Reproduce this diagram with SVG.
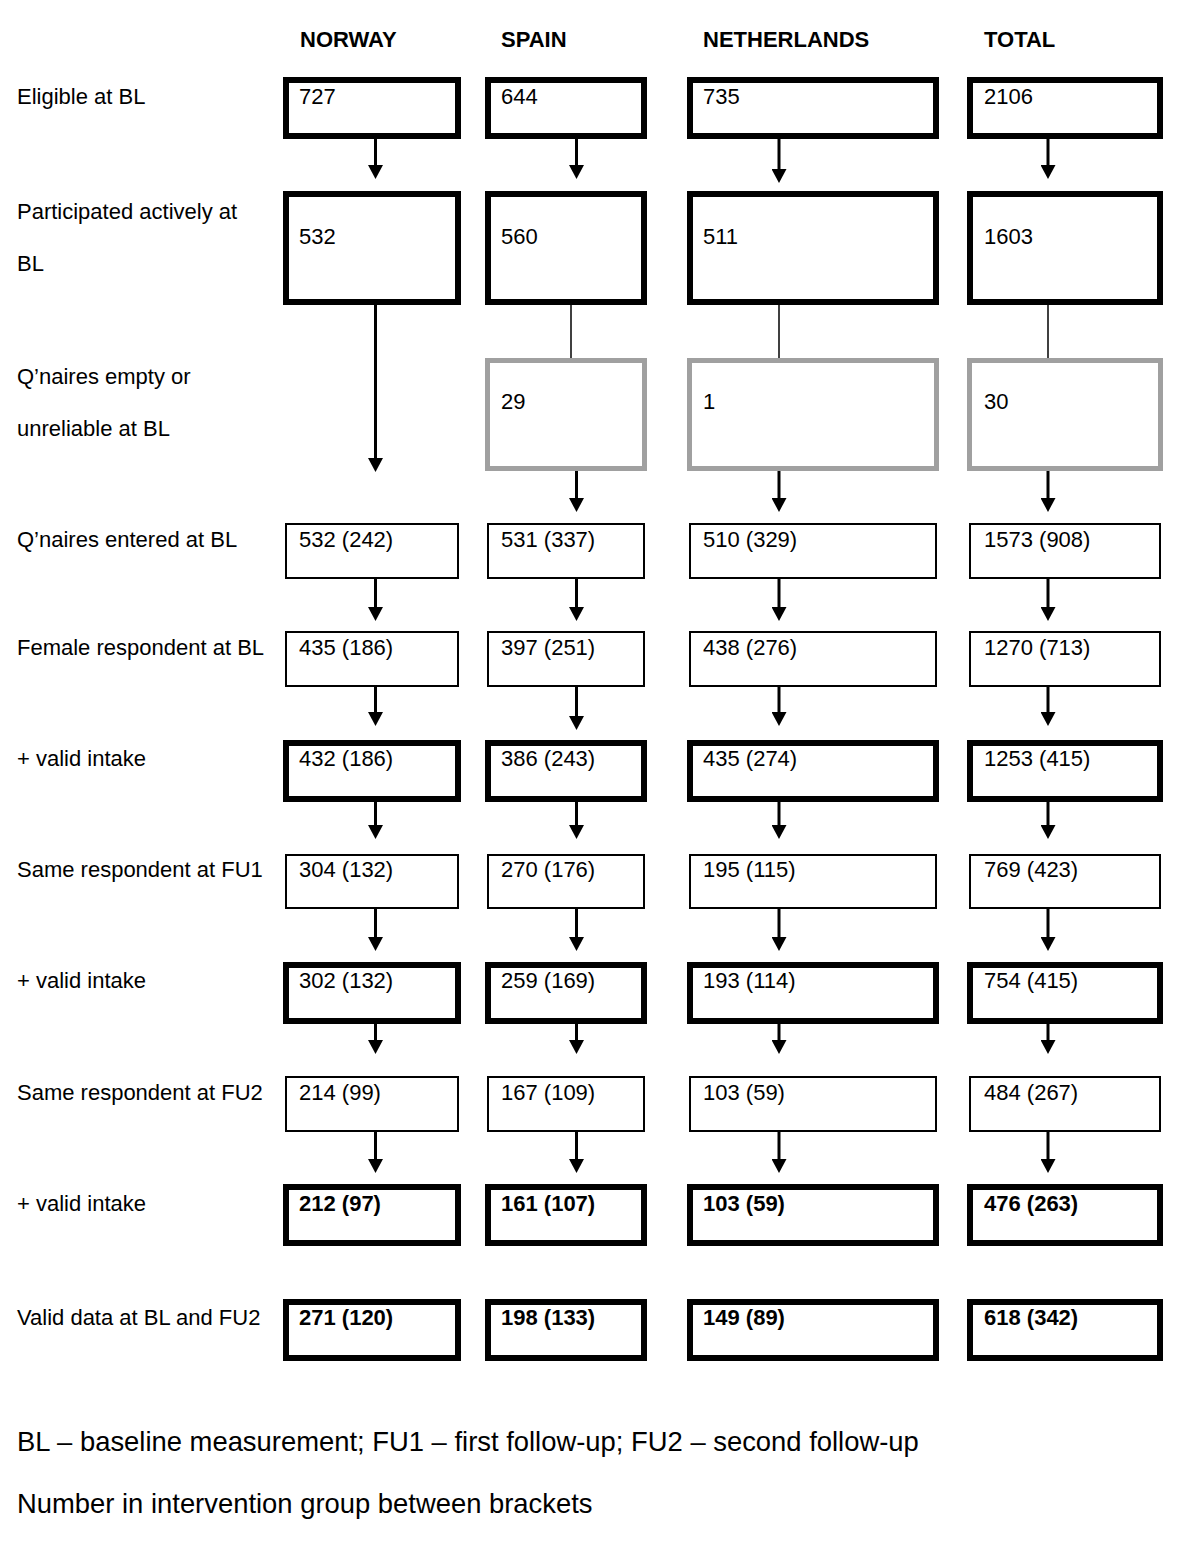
<svg xmlns="http://www.w3.org/2000/svg" width="1200" height="1549" viewBox="0 0 1200 1549">
<style>
text{font-family:"Liberation Sans",Arial,sans-serif;font-size:22px;fill:#000}
.hd{font-weight:bold}
.b{font-weight:bold}
.ft{font-size:27.4px}
.thick{fill:#fff;stroke:#000;stroke-width:6}
.thin{fill:#fff;stroke:#000;stroke-width:2}
.grey{fill:#fff;stroke:#a0a0a0;stroke-width:5}
.arr{stroke:#000;stroke-width:3;fill:none;marker-end:url(#ah)}
.ln{stroke:#000;stroke-width:1.5;fill:none}
</style>
<defs>
<marker id="ah" markerUnits="userSpaceOnUse" markerWidth="15" markerHeight="15" viewBox="0 0 14 15" refX="1" refY="7.5" orient="auto">
<path d="M0,0 L14,7.5 L0,15 z" fill="#000"/>
</marker>
</defs>
<rect width="1200" height="1549" fill="#fff"/>

<g id="headers">
<text class="hd" x="300" y="47">NORWAY</text>
<text class="hd" x="501" y="47">SPAIN</text>
<text class="hd" x="703" y="47">NETHERLANDS</text>
<text class="hd" x="984" y="47">TOTAL</text>
</g>

<g id="row-labels">
<text x="17" y="104">Eligible at BL</text>
<text x="17" y="219">Participated actively at</text>
<text x="17" y="271">BL</text>
<text x="17" y="384">Q’naires empty or</text>
<text x="17" y="436">unreliable at BL</text>
<text x="17" y="547">Q’naires entered at BL</text>
<text x="17" y="655">Female respondent at BL</text>
<text x="17" y="766">+ valid intake</text>
<text x="17" y="877">Same respondent at FU1</text>
<text x="17" y="988">+ valid intake</text>
<text x="17" y="1100">Same respondent at FU2</text>
<text x="17" y="1211">+ valid intake</text>
<text x="17" y="1325">Valid data at BL and FU2</text>
</g>

<g id="connectors">
<!-- row 1 to 2 -->
<line class="arr" x1="375.5" y1="137" x2="375.5" y2="166"/>
<line class="arr" x1="576.5" y1="137" x2="576.5" y2="166"/>
<line class="arr" x1="779" y1="137" x2="779" y2="170"/>
<line class="arr" x1="1048" y1="137" x2="1048" y2="166"/>
<!-- row 2 to 3 -->
<line class="arr" x1="375.5" y1="303" x2="375.5" y2="459"/>
<line class="ln" x1="571" y1="303" x2="571" y2="358"/>
<line class="ln" x1="779" y1="303" x2="779" y2="358"/>
<line class="ln" x1="1048" y1="303" x2="1048" y2="358"/>
<!-- row 3 to 4 -->
<line class="arr" x1="576.5" y1="471" x2="576.5" y2="499"/>
<line class="arr" x1="779" y1="471" x2="779" y2="499"/>
<line class="arr" x1="1048" y1="471" x2="1048" y2="499"/>
<!-- row 4 to 5 -->
<line class="arr" x1="375.5" y1="578" x2="375.5" y2="608"/>
<line class="arr" x1="576.5" y1="578" x2="576.5" y2="608"/>
<line class="arr" x1="779" y1="578" x2="779" y2="608"/>
<line class="arr" x1="1048" y1="578" x2="1048" y2="608"/>
<!-- row 5 to 6 -->
<line class="arr" x1="375.5" y1="686" x2="375.5" y2="713"/>
<line class="arr" x1="576.5" y1="686" x2="576.5" y2="717"/>
<line class="arr" x1="779" y1="686" x2="779" y2="713"/>
<line class="arr" x1="1048" y1="686" x2="1048" y2="713"/>
<!-- row 6 to 7 -->
<line class="arr" x1="375.5" y1="800" x2="375.5" y2="826"/>
<line class="arr" x1="576.5" y1="800" x2="576.5" y2="826"/>
<line class="arr" x1="779" y1="800" x2="779" y2="826"/>
<line class="arr" x1="1048" y1="800" x2="1048" y2="826"/>
<!-- row 7 to 8 -->
<line class="arr" x1="375.5" y1="908" x2="375.5" y2="938"/>
<line class="arr" x1="576.5" y1="908" x2="576.5" y2="938"/>
<line class="arr" x1="779" y1="908" x2="779" y2="938"/>
<line class="arr" x1="1048" y1="908" x2="1048" y2="938"/>
<!-- row 8 to 9 -->
<line class="arr" x1="375.5" y1="1022" x2="375.5" y2="1041"/>
<line class="arr" x1="576.5" y1="1022" x2="576.5" y2="1041"/>
<line class="arr" x1="779" y1="1022" x2="779" y2="1041"/>
<line class="arr" x1="1048" y1="1022" x2="1048" y2="1041"/>
<!-- row 9 to 10 -->
<line class="arr" x1="375.5" y1="1131" x2="375.5" y2="1160"/>
<line class="arr" x1="576.5" y1="1131" x2="576.5" y2="1160"/>
<line class="arr" x1="779" y1="1131" x2="779" y2="1160"/>
<line class="arr" x1="1048" y1="1131" x2="1048" y2="1160"/>
</g>

<!-- Row 1: Eligible -->
<g id="no-eligible"><rect class="thick" x="286" y="80" width="172" height="56"/><text x="299" y="104">727</text></g>
<g id="es-eligible"><rect class="thick" x="488" y="80" width="156" height="56"/><text x="501" y="104">644</text></g>
<g id="nl-eligible"><rect class="thick" x="690" y="80" width="246" height="56"/><text x="703" y="104">735</text></g>
<g id="tot-eligible"><rect class="thick" x="970" y="80" width="190" height="56"/><text x="984" y="104">2106</text></g>

<!-- Row 2: Participated -->
<g id="no-participated"><rect class="thick" x="286" y="194" width="172" height="108"/><text x="299" y="244">532</text></g>
<g id="es-participated"><rect class="thick" x="488" y="194" width="156" height="108"/><text x="501" y="244">560</text></g>
<g id="nl-participated"><rect class="thick" x="690" y="194" width="246" height="108"/><text x="703" y="244">511</text></g>
<g id="tot-participated"><rect class="thick" x="970" y="194" width="190" height="108"/><text x="984" y="244">1603</text></g>

<!-- Row 3: Empty/unreliable -->
<g id="es-unreliable"><rect class="grey" x="487.5" y="360.5" width="157" height="108"/><text x="501" y="409">29</text></g>
<g id="nl-unreliable"><rect class="grey" x="689.5" y="360.5" width="247" height="108"/><text x="703" y="409">1</text></g>
<g id="tot-unreliable"><rect class="grey" x="969.5" y="360.5" width="191" height="108"/><text x="984" y="409">30</text></g>

<!-- Row 4: Entered -->
<g id="no-entered"><rect class="thin" x="286" y="524" width="172" height="54"/><text x="299" y="547">532 (242)</text></g>
<g id="es-entered"><rect class="thin" x="488" y="524" width="156" height="54"/><text x="501" y="547">531 (337)</text></g>
<g id="nl-entered"><rect class="thin" x="690" y="524" width="246" height="54"/><text x="703" y="547">510 (329)</text></g>
<g id="tot-entered"><rect class="thin" x="970" y="524" width="190" height="54"/><text x="984" y="547">1573 (908)</text></g>

<!-- Row 5: Female -->
<g id="no-female"><rect class="thin" x="286" y="632" width="172" height="54"/><text x="299" y="655">435 (186)</text></g>
<g id="es-female"><rect class="thin" x="488" y="632" width="156" height="54"/><text x="501" y="655">397 (251)</text></g>
<g id="nl-female"><rect class="thin" x="690" y="632" width="246" height="54"/><text x="703" y="655">438 (276)</text></g>
<g id="tot-female"><rect class="thin" x="970" y="632" width="190" height="54"/><text x="984" y="655">1270 (713)</text></g>

<!-- Row 6: valid intake BL -->
<g id="no-valid-bl"><rect class="thick" x="286" y="743" width="172" height="56"/><text x="299" y="766">432 (186)</text></g>
<g id="es-valid-bl"><rect class="thick" x="488" y="743" width="156" height="56"/><text x="501" y="766">386 (243)</text></g>
<g id="nl-valid-bl"><rect class="thick" x="690" y="743" width="246" height="56"/><text x="703" y="766">435 (274)</text></g>
<g id="tot-valid-bl"><rect class="thick" x="970" y="743" width="190" height="56"/><text x="984" y="766">1253 (415)</text></g>

<!-- Row 7: Same FU1 -->
<g id="no-fu1"><rect class="thin" x="286" y="855" width="172" height="53"/><text x="299" y="877">304 (132)</text></g>
<g id="es-fu1"><rect class="thin" x="488" y="855" width="156" height="53"/><text x="501" y="877">270 (176)</text></g>
<g id="nl-fu1"><rect class="thin" x="690" y="855" width="246" height="53"/><text x="703" y="877">195 (115)</text></g>
<g id="tot-fu1"><rect class="thin" x="970" y="855" width="190" height="53"/><text x="984" y="877">769 (423)</text></g>

<!-- Row 8: valid intake FU1 -->
<g id="no-valid-fu1"><rect class="thick" x="286" y="965" width="172" height="56"/><text x="299" y="988">302 (132)</text></g>
<g id="es-valid-fu1"><rect class="thick" x="488" y="965" width="156" height="56"/><text x="501" y="988">259 (169)</text></g>
<g id="nl-valid-fu1"><rect class="thick" x="690" y="965" width="246" height="56"/><text x="703" y="988">193 (114)</text></g>
<g id="tot-valid-fu1"><rect class="thick" x="970" y="965" width="190" height="56"/><text x="984" y="988">754 (415)</text></g>

<!-- Row 9: Same FU2 -->
<g id="no-fu2"><rect class="thin" x="286" y="1077" width="172" height="54"/><text x="299" y="1100">214 (99)</text></g>
<g id="es-fu2"><rect class="thin" x="488" y="1077" width="156" height="54"/><text x="501" y="1100">167 (109)</text></g>
<g id="nl-fu2"><rect class="thin" x="690" y="1077" width="246" height="54"/><text x="703" y="1100">103 (59)</text></g>
<g id="tot-fu2"><rect class="thin" x="970" y="1077" width="190" height="54"/><text x="984" y="1100">484 (267)</text></g>

<!-- Row 10: valid intake FU2 -->
<g id="no-valid-fu2"><rect class="thick" x="286" y="1187" width="172" height="56"/><text class="b" x="299" y="1211">212 (97)</text></g>
<g id="es-valid-fu2"><rect class="thick" x="488" y="1187" width="156" height="56"/><text class="b" x="501" y="1211">161 (107)</text></g>
<g id="nl-valid-fu2"><rect class="thick" x="690" y="1187" width="246" height="56"/><text class="b" x="703" y="1211">103 (59)</text></g>
<g id="tot-valid-fu2"><rect class="thick" x="970" y="1187" width="190" height="56"/><text class="b" x="984" y="1211">476 (263)</text></g>

<!-- Row 11: Valid data BL and FU2 -->
<g id="no-valid-both"><rect class="thick" x="286" y="1302" width="172" height="56"/><text class="b" x="299" y="1325">271 (120)</text></g>
<g id="es-valid-both"><rect class="thick" x="488" y="1302" width="156" height="56"/><text class="b" x="501" y="1325">198 (133)</text></g>
<g id="nl-valid-both"><rect class="thick" x="690" y="1302" width="246" height="56"/><text class="b" x="703" y="1325">149 (89)</text></g>
<g id="tot-valid-both"><rect class="thick" x="970" y="1302" width="190" height="56"/><text class="b" x="984" y="1325">618 (342)</text></g>

<g id="footnote">
<text class="ft" x="17" y="1451">BL – baseline measurement; FU1 – first follow-up; FU2 – second follow-up</text>
<text class="ft" x="17" y="1513">Number in intervention group between brackets</text>
</g>
</svg>
